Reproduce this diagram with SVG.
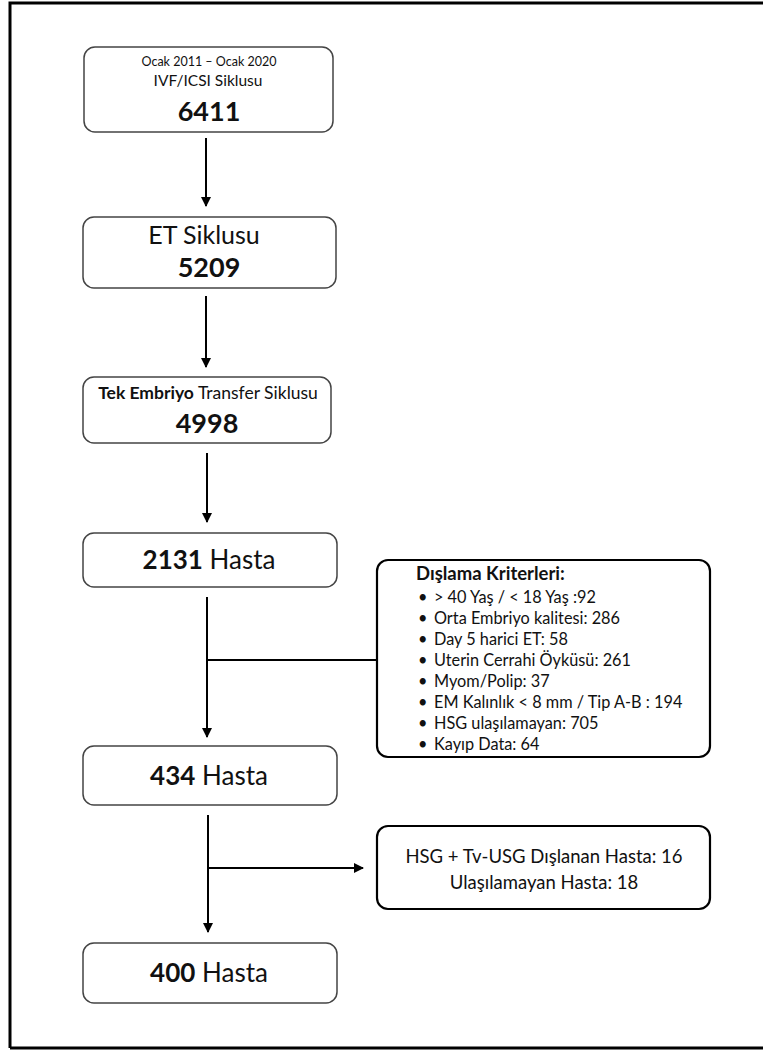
<svg xmlns="http://www.w3.org/2000/svg" width="763" height="1050" viewBox="0 0 763 1050">
<defs>
<marker id="ah" markerWidth="10" markerHeight="10" refX="9" refY="5" orient="auto" markerUnits="userSpaceOnUse">
<path d="M0,0 L10,5 L0,10 z" fill="#000"/>
</marker>
<style>
.box{fill:#fff;stroke:#444;stroke-width:1.5}
.box2{fill:#fff;stroke:#000;stroke-width:2.2}
.t{font-family:Lato,"Open Sans",sans-serif;fill:#111;text-anchor:middle}
.l{font-family:Lato,"Open Sans",sans-serif;fill:#111}
.b{font-weight:bold}
.c{fill:none;stroke:#000;stroke-width:2}
</style>
</defs>
<rect width="763" height="1050" fill="#fff"/>
<path d="M10,1048 L10,3 L770,3 M10,1048 L770,1048" fill="none" stroke="#000" stroke-width="3"/>
<g id="connectors">
<line class="c" x1="206" y1="138" x2="206" y2="206" marker-end="url(#ah)"/>
<line class="c" x1="206" y1="296" x2="206" y2="367" marker-end="url(#ah)"/>
<line class="c" x1="207" y1="453" x2="207" y2="522" marker-end="url(#ah)"/>
<line class="c" x1="207" y1="597" x2="207" y2="737" marker-end="url(#ah)"/>
<line class="c" x1="207" y1="660" x2="377" y2="660"/>
<line class="c" x1="208" y1="815" x2="208" y2="932" marker-end="url(#ah)"/>
<line class="c" x1="208" y1="868" x2="363" y2="868" marker-end="url(#ah)"/>
</g>
<g id="n1">
<rect class="box" x="84" y="47" width="249" height="85" rx="11"/>
<text class="t" x="209" y="66" font-size="12.5">Ocak 2011 – Ocak 2020</text>
<text class="t" x="208" y="86" font-size="15.5">IVF/ICSI Siklusu</text>
<text class="t b" x="209" y="121" font-size="27">6411</text>
</g>
<g id="n2">
<rect class="box" x="83" y="217" width="253" height="71" rx="11"/>
<text class="t" x="204" y="244" font-size="25">ET Siklusu</text>
<text class="t b" x="209" y="277" font-size="27">5209</text>
</g>
<g id="n3">
<rect class="box" x="83" y="377" width="248" height="66" rx="11"/>
<text class="t" x="208" y="399" font-size="17.5"><tspan class="b">Tek Embriyo</tspan> Transfer Siklusu</text>
<text class="t b" x="207" y="433" font-size="27">4998</text>
</g>
<g id="n4">
<rect class="box" x="83" y="533" width="254" height="54" rx="11"/>
<text class="t" x="209" y="569" font-size="26"><tspan class="b">2131</tspan> Hasta</text>
</g>
<g id="n5">
<rect class="box2" x="377" y="560" width="333" height="197" rx="11"/>
<text class="l b" x="416" y="580" font-size="18.5">Dışlama Kriterleri:</text>
<g font-size="16.3">
<text class="l" x="418" y="603">•</text><text class="l" x="434" y="603">&gt; 40 Yaş / &lt; 18 Yaş :92</text>
<text class="l" x="418" y="624">•</text><text class="l" x="434" y="624">Orta Embriyo kalitesi: 286</text>
<text class="l" x="418" y="645">•</text><text class="l" x="434" y="645">Day 5 harici ET: 58</text>
<text class="l" x="418" y="666">•</text><text class="l" x="434" y="666">Uterin Cerrahi Öyküsü: 261</text>
<text class="l" x="418" y="687">•</text><text class="l" x="434" y="687">Myom/Polip: 37</text>
<text class="l" x="418" y="708">•</text><text class="l" x="434" y="708">EM Kalınlık &lt; 8 mm / Tip A-B : 194</text>
<text class="l" x="418" y="729">•</text><text class="l" x="434" y="729">HSG ulaşılamayan: 705</text>
<text class="l" x="418" y="750">•</text><text class="l" x="434" y="750">Kayıp Data: 64</text>
</g>
</g>
<g id="n6">
<rect class="box" x="83" y="746" width="254" height="59" rx="11"/>
<text class="t" x="209" y="785" font-size="26"><tspan class="b">434</tspan> Hasta</text>
</g>
<g id="n7">
<rect class="box2" x="377" y="826" width="333" height="83" rx="11"/>
<text class="t" x="544" y="863" font-size="18.5">HSG + Tv-USG Dışlanan Hasta: 16</text>
<text class="t" x="544" y="889" font-size="18.5">Ulaşılamayan Hasta: 18</text>
</g>
<g id="n8">
<rect class="box" x="83" y="943" width="254" height="60" rx="11"/>
<text class="t" x="209" y="982" font-size="26"><tspan class="b">400</tspan> Hasta</text>
</g>
</svg>
